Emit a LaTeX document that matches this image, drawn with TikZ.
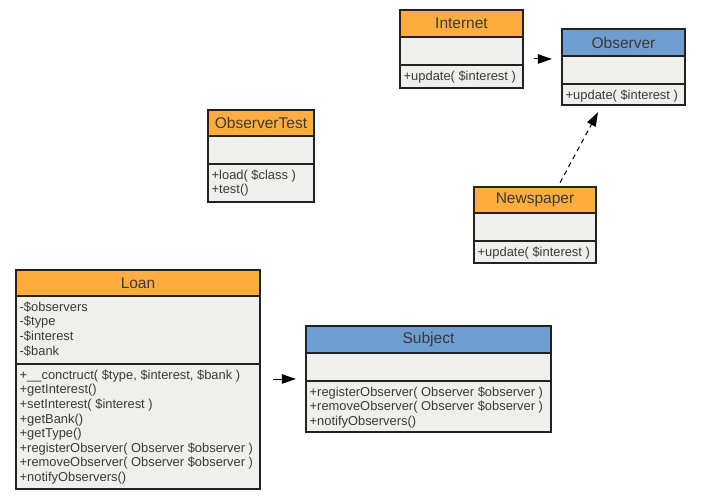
\documentclass[tikz,border=0pt]{standalone}
\usepackage{fontspec}
\setmainfont{Liberation Sans}
\usetikzlibrary{arrows.meta,calc,fit}
\definecolor{orangec}{HTML}{FFAD3F}
\definecolor{bluec}{HTML}{6F9DCF}
\definecolor{bodyc}{HTML}{EFEFEC}
\definecolor{linec}{HTML}{222222}
\definecolor{textc}{HTML}{3A3A3A}
\tikzset{
  boxline/.style={draw=linec, line width=1.1pt},
  titletext/.style={inner sep=0pt, text=textc, font=\fontsize{15.5}{17}\selectfont},
  listtext/.style={inner sep=0pt, anchor=north west, align=left, text=textc, font=\fontsize{12.9}{14.6}\selectfont},
  assoc/.style={draw=black, line width=1pt, -{Triangle[length=14pt,width=9.5pt]}},
  realize/.style={assoc, dash pattern=on 5pt off 4pt},
}
\newcommand{\umlclass}[9]{%
  \fill[bodyc] (#2,#3) rectangle (#4,#7);
  \fill[#8] (#2,#3) rectangle (#4,#5);
  \draw[boxline] (#2,#5) -- (#4,#5) (#2,#6) -- (#4,#6);
  \draw[boxline] (#2,#3) rectangle (#4,#7);
  \coordinate (#1-nw) at (#2,#3);
  \coordinate (#1-se) at (#4,#7);
  \node[fit=(#1-nw)(#1-se), inner sep=0pt] (#1) {};
  \node[titletext] (#1-title) at ($(#2,#3)!.5!(#4,#5)$) {#9};
  \coordinate (#1-attr) at (#2+3.5,#5+4.8);
  \coordinate (#1-meth) at (#2+3.5,#6+4.8);
}
\begin{document}
\begin{tikzpicture}[x=1pt,y=-1pt]
\useasboundingbox[fill=white] (0,0) rectangle (701,500);

\umlclass{internet}{400}{10}{523}{37}{65}{88}{orangec}{Internet}
\node[listtext] (internet-m) at (internet-meth) {\strut+update( \$interest )};

\umlclass{observer}{562}{29}{685}{56}{84}{105}{bluec}{Observer}
\node[listtext] (observer-m) at (observer-meth) {\strut+update( \$interest )};

\umlclass{observertest}{208}{110}{314}{136}{164}{202}{orangec}{ObserverTest}
\node[listtext] (observertest-m) at (observertest-meth) {\strut+load( \$class )\\+test()};

\umlclass{newspaper}{474}{187}{596}{213}{241}{263}{orangec}{Newspaper}
\node[listtext] (newspaper-m) at (newspaper-meth) {\strut+update( \$interest )};

\umlclass{loan}{16}{270}{260}{296}{364}{489}{orangec}{Loan}
\node[listtext] (loan-a) at (loan-attr) {\strut-\$observers\\-\$type\\-\$interest\\-\$bank};
\node[listtext] (loan-m) at (loan-meth) {\strut+\_\_conctruct( \$type, \$interest, \$bank )\\+getInterest()\\+setInterest( \$interest )\\+getBank()\\+getType()\\+registerObserver( Observer \$observer )\\+removeObserver( Observer \$observer )\\+notifyObservers()};

\umlclass{subject}{306}{326}{551}{353}{381}{432}{bluec}{Subject}
\node[listtext] (subject-m) at (subject-meth) {\strut+registerObserver( Observer \$observer )\\+removeObserver( Observer \$observer )\\+notifyObservers()};

% connectors
\coordinate (e1s) at ($(internet.east)+(11,10)$);
\coordinate (e1t) at ($(observer.west)+(-10,-8)$);
\draw[assoc] (e1s) -- (e1t);

\coordinate (e2s) at ($(newspaper.north)+(25,-4)$);
\coordinate (e2t) at ($(observer.south)+(-25.5,7)$);
\draw[realize] (e2s) -- (e2t);

\coordinate (e3s) at ($(loan.east)+(13,-0.5)$);
\coordinate (e3t) at ($(subject.west)+(-10,0)$);
\draw[assoc] (e3s) -- (e3t);
\end{tikzpicture}
\end{document}
